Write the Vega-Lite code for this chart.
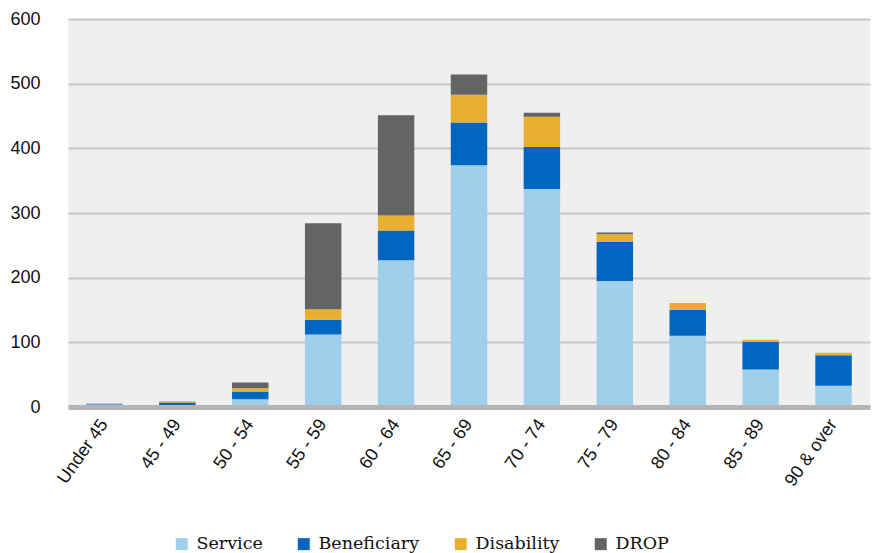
{
  "$schema": "https://vega.github.io/schema/vega-lite/v6.json",
  "autosize": "none",
  "width": 802,
  "height": 388,
  "padding": {"left": 68, "top": 19, "right": 2, "bottom": 146},
  "background": "white",
  "config": {
    "view": {"fill": "#efefef", "stroke": null},
    "font": "Liberation Sans"
  },
  "data": {
    "values": [
      {"age": "Under 45", "type": "Service", "n": 4},
      {"age": "Under 45", "type": "Beneficiary", "n": 1},
      {"age": "45 - 49", "type": "Service", "n": 2},
      {"age": "45 - 49", "type": "Beneficiary", "n": 5},
      {"age": "45 - 49", "type": "Disability", "n": 2},
      {"age": "50 - 54", "type": "Service", "n": 12},
      {"age": "50 - 54", "type": "Beneficiary", "n": 12},
      {"age": "50 - 54", "type": "Disability", "n": 5},
      {"age": "50 - 54", "type": "DROP", "n": 9},
      {"age": "55 - 59", "type": "Service", "n": 112},
      {"age": "55 - 59", "type": "Beneficiary", "n": 23},
      {"age": "55 - 59", "type": "Disability", "n": 16},
      {"age": "55 - 59", "type": "DROP", "n": 133},
      {"age": "60 - 64", "type": "Service", "n": 227},
      {"age": "60 - 64", "type": "Beneficiary", "n": 46},
      {"age": "60 - 64", "type": "Disability", "n": 23},
      {"age": "60 - 64", "type": "DROP", "n": 155},
      {"age": "65 - 69", "type": "Service", "n": 374},
      {"age": "65 - 69", "type": "Beneficiary", "n": 66},
      {"age": "65 - 69", "type": "Disability", "n": 43},
      {"age": "65 - 69", "type": "DROP", "n": 31},
      {"age": "70 - 74", "type": "Service", "n": 337},
      {"age": "70 - 74", "type": "Beneficiary", "n": 65},
      {"age": "70 - 74", "type": "Disability", "n": 47},
      {"age": "70 - 74", "type": "DROP", "n": 6},
      {"age": "75 - 79", "type": "Service", "n": 195},
      {"age": "75 - 79", "type": "Beneficiary", "n": 60},
      {"age": "75 - 79", "type": "Disability", "n": 12},
      {"age": "75 - 79", "type": "DROP", "n": 3},
      {"age": "80 - 84", "type": "Service", "n": 110},
      {"age": "80 - 84", "type": "Beneficiary", "n": 40},
      {"age": "80 - 84", "type": "Disability", "n": 11},
      {"age": "85 - 89", "type": "Service", "n": 58},
      {"age": "85 - 89", "type": "Beneficiary", "n": 43},
      {"age": "85 - 89", "type": "Disability", "n": 3},
      {"age": "90 & over", "type": "Service", "n": 33},
      {"age": "90 & over", "type": "Beneficiary", "n": 47},
      {"age": "90 & over", "type": "Disability", "n": 4}
    ]
  },
  "transform": [
    {"calculate": "indexof(['Service','Beneficiary','Disability','DROP'], datum.type)", "as": "ord"}
  ],
  "mark": {"type": "bar"},
  "encoding": {
    "x": {
      "field": "age",
      "type": "nominal",
      "sort": null,
      "scale": {"paddingInner": 0.5, "paddingOuter": 0.25},
      "axis": {
        "title": null,
        "labelAngle": -55,
        "labelAlign": "right",
        "labelBaseline": "middle",
        "labelFontSize": 18,
        "labelColor": "#111111",
        "labelPadding": 14,
        "ticks": false,
        "domainColor": "#b5b5b5",
        "domainWidth": 5,
        "zindex": 1
      }
    },
    "y": {
      "field": "n",
      "type": "quantitative",
      "stack": "zero",
      "scale": {"domain": [0, 600], "nice": false},
      "axis": {
        "title": null,
        "values": [0, 100, 200, 300, 400, 500, 600],
        "labelFontSize": 18,
        "labelColor": "#111111",
        "labelPadding": 28,
        "ticks": false,
        "domain": false,
        "gridColor": "#c6c6c6",
        "gridWidth": 2
      }
    },
    "color": {
      "field": "type",
      "type": "nominal",
      "scale": {
        "domain": ["Service", "Beneficiary", "Disability", "DROP"],
        "range": ["#a0cfeb", "#0066c0", "#e9b030", "#636466"]
      },
      "legend": {
        "title": null,
        "orient": "none",
        "direction": "horizontal",
        "legendX": 105,
        "legendY": 516,
        "symbolType": "square",
        "symbolSize": 144,
        "symbolStrokeWidth": 0,
        "labelFont": "DejaVu Serif",
        "labelFontSize": 17.5,
        "labelColor": "#111111",
        "columnPadding": 32,
        "labelOffset": 6
      }
    },
    "order": {"field": "ord", "type": "quantitative"}
  }
}
